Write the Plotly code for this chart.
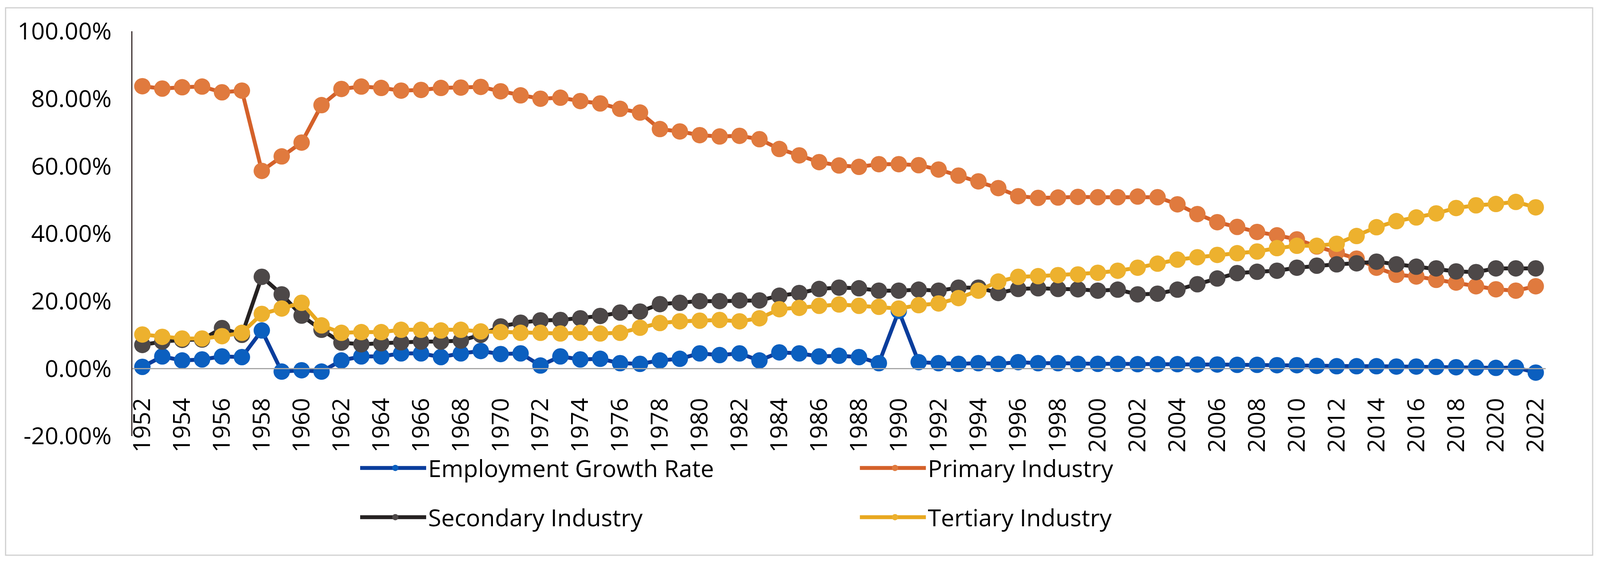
import plotly.graph_objects as go

years = list(range(1952, 2023))

employment_growth = [
    0.5, 3.6, 2.4, 2.7, 3.6, 3.4, 11.3, -0.9, -0.5, -0.9,
    2.4, 3.6, 3.6, 4.5, 4.5, 3.4, 4.5, 5.2, 4.3, 4.5,
    0.9, 3.6, 2.7, 2.9, 1.6, 1.4, 2.4, 2.9, 4.5, 4.0,
    4.5, 2.4, 4.8, 4.5, 3.6, 3.8, 3.4, 1.6, 17.1, 1.9,
    1.6, 1.4, 1.6, 1.4, 1.9, 1.6, 1.6, 1.4, 1.4, 1.4,
    1.3, 1.3, 1.3, 1.2, 1.2, 1.1, 1.1, 1.0, 1.0, 0.8,
    0.7, 0.7, 0.7, 0.6, 0.6, 0.5, 0.4, 0.3, 0.2, 0.3,
    -1.2,
]

primary = [
    83.7, 83.0, 83.4, 83.6, 81.9, 82.4, 58.6, 62.9, 67.0, 78.1,
    82.9, 83.6, 83.2, 82.4, 82.6, 83.2, 83.3, 83.5, 82.2, 81.0,
    80.0, 80.3, 79.3, 78.6, 77.0, 75.9, 71.0, 70.3, 69.2, 68.8,
    69.0, 68.0, 65.1, 63.2, 61.2, 60.2, 59.8, 60.6, 60.6, 60.3,
    59.0, 57.2, 55.5, 53.5, 51.1, 50.6, 50.7, 50.9, 50.8, 50.8,
    51.0, 50.8, 48.7, 45.8, 43.4, 42.0, 40.5, 39.5, 38.3, 36.2,
    34.5, 32.6, 29.9, 27.8, 27.3, 26.3, 25.5, 24.4, 23.5, 23.1,
    24.4,
]

secondary = [
    7.0, 8.0, 8.5, 8.6, 12.0, 10.0, 27.2, 22.0, 15.7, 11.5,
    7.7, 7.2, 7.5, 7.8, 8.0, 8.0, 8.3, 10.0, 12.5, 13.6,
    14.3, 14.4, 14.9, 15.6, 16.6, 16.9, 19.1, 19.5, 20.0, 20.0,
    20.2, 20.2, 21.6, 22.4, 23.6, 24.0, 23.8, 23.1, 23.1, 23.4,
    23.1, 24.0, 24.0, 22.4, 23.6, 23.8, 23.6, 23.5, 23.1, 23.4,
    22.0, 22.2, 23.4, 25.0, 26.7, 28.3, 28.7, 29.0, 29.9, 30.5,
    30.9, 31.2, 31.7, 30.9, 30.2, 29.7, 28.8, 28.6, 29.7, 29.7,
    29.7,
]

tertiary = [
    10.1, 9.4, 8.9, 8.9, 9.6, 10.6, 16.2, 17.8, 19.5, 12.8,
    10.6, 10.8, 10.8, 11.5, 11.5, 11.3, 11.5, 11.0, 10.8, 10.6,
    10.6, 10.4, 10.6, 10.4, 10.6, 12.1, 13.5, 14.0, 14.2, 14.4,
    14.0, 14.9, 17.6, 18.0, 18.6, 19.0, 18.6, 18.3, 17.8, 18.8,
    19.3, 20.9, 23.1, 25.8, 27.2, 27.4, 27.7, 27.9, 28.4, 29.0,
    29.9, 31.1, 32.3, 33.0, 33.7, 34.2, 34.7, 35.7, 36.4, 36.4,
    37.0, 39.3, 41.9, 43.7, 44.8, 46.0, 47.6, 48.4, 48.8, 49.4,
    47.8,
]

series_names = ["Employment Growth Rate", "Primary Industry",
                "Secondary Industry", "Tertiary Industry"]

y_tick_vals = [-20, 0, 20, 40, 60, 80, 100]
y_tick_text = ["-20.00%", "0.00%", "20.00%", "40.00%", "60.00%", "80.00%", "100.00%"]
x_tick_vals = years[::2]
x_tick_text = [str(y) for y in x_tick_vals]

W, H = 4364, 1441
L, R, T, B = 361, 148, 80, 325
FONT = "Open Sans"
FS = 61
ITEMW = 180
STEP = 1363

styles = [
    dict(mc="#0B5FBF", lc="#0A3D9C", legend="legend"),
    dict(mc="#E07A3E", lc="#D4612A", legend="legend"),
    dict(mc="#4D4848", lc="#262222", legend="legend2"),
    dict(mc="#EDB12E", lc="#E8A820", legend="legend2"),
]

fig = go.Figure()
for name, vals, st in zip(series_names,
                          [employment_growth, primary, secondary, tertiary],
                          styles):
    fig.add_trace(go.Scatter(
        x=years, y=vals, name=name, mode="lines+markers",
        line=dict(color=st["lc"], width=10),
        marker=dict(color=st["mc"], size=42, line=dict(width=0)),
        legend=st["legend"],
    ))

pw = W - L - R
ph = H - T - B
zero_pos = (0 - (-20)) / 120.0

legend_common = dict(
    orientation="h", xref="container", yref="container",
    xanchor="left", yanchor="middle",
    font=dict(family=FONT, size=FS, color="#000000"),
    itemwidth=ITEMW, entrywidth=STEP - ITEMW - 15, entrywidthmode="pixels",
    bgcolor="rgba(0,0,0,0)", borderwidth=0,
    traceorder="normal",
)

fig.update_layout(
    width=W, height=H,
    margin=dict(l=L, r=R, t=T, b=B, autoexpand=False),
    paper_bgcolor="white", plot_bgcolor="white",
    font=dict(family=FONT, size=FS, color="#000000"),
    showlegend=True,
    legend=dict(x=977 / W, y=1 - 1198 / H, **legend_common),
    legend2=dict(x=977 / W, y=1 - 1324 / H, **legend_common),
    xaxis=dict(
        range=[1951.5, 2022.5],
        tickmode="array", tickvals=x_tick_vals, ticktext=x_tick_text,
        tickangle=-90, ticks="", ticklabelstandoff=49,
        showgrid=False, zeroline=False,
        showline=True, linecolor="#A6A6A6", linewidth=3,
        anchor="free", position=zero_pos,
        tickfont=dict(family=FONT, size=FS, color="#000000"),
        automargin=False,
    ),
    yaxis=dict(
        range=[-20, 100],
        tickmode="array", tickvals=y_tick_vals, ticktext=y_tick_text,
        ticks="", ticklabelstandoff=38,
        showgrid=False, zeroline=False,
        showline=True, linecolor="#3A2E2E", linewidth=3,
        tickfont=dict(family=FONT, size=FS, color="#000000"),
        automargin=False,
    ),
    shapes=[dict(
        type="rect", xref="paper", yref="paper",
        x0=(15 - L) / pw, x1=(4344 - L) / pw,
        y0=(H - B - 1421) / ph, y1=(H - B - 20) / ph,
        line=dict(color="#D0D0D0", width=3), fillcolor="rgba(0,0,0,0)",
        layer="below",
    )],
)

# Fit the figure to the actual browser viewport (keeps the design's proportions).
fit_js = """
var gd = document.getElementById('{plot_id}');
document.documentElement.style.margin = '0';
document.body.style.margin = '0';
document.documentElement.style.overflow = 'hidden';
document.body.style.overflow = 'hidden';
var w = window.innerWidth, h = window.innerHeight;
var sx = w / %(W)d, sy = h / %(H)d;
gd.style.width = w + 'px';
gd.style.height = h + 'px';
var iw = Math.max(30, %(IW)d * sx);
var upd = {
  width: w, height: h,
  'margin.l': %(L)d * sx, 'margin.r': %(R)d * sx,
  'margin.t': %(T)d * sy, 'margin.b': %(B)d * sy,
  'legend.itemwidth': iw, 'legend2.itemwidth': iw,
  'legend.entrywidth': %(ST)d * sx - iw - 15,
  'legend2.entrywidth': %(ST)d * sx - iw - 15
};
Plotly.relayout(gd, upd);
""" % dict(W=W, H=H, L=L, R=R, T=T, B=B, IW=ITEMW, ST=STEP)

fig.write_html("out.html", post_script=fit_js,
               config={"displayModeBar": False, "responsive": False})
